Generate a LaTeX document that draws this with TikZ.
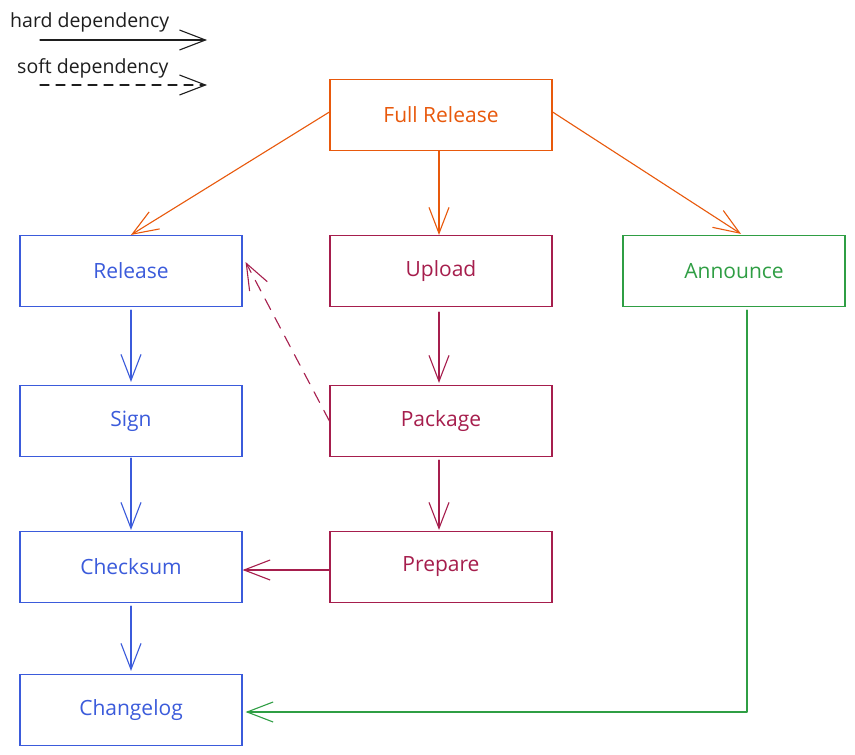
\documentclass[tikz,border=0pt]{standalone}
\usepackage{fontspec}
\setmainfont{Open Sans}
\usetikzlibrary{arrows.meta,calc}
\definecolor{cOr}{HTML}{E8590C}
\definecolor{cBl}{HTML}{3B5BDB}
\definecolor{cCr}{HTML}{A61E4D}
\definecolor{cGr}{HTML}{2F9E44}
\definecolor{cBk}{HTML}{1E1E1E}
\tikzset{
  box/.style={draw, line width=1.2pt, minimum width=222pt, minimum height=71pt, inner sep=0pt, font=\fontsize{21}{23}\selectfont},
  conn/.style={line width=1.1pt, line cap=round, line join=round, -{Straight Barb[length=26pt,width=20pt,line width=1.1pt]}},
  lbl/.style={inner sep=0pt, text=cBk, font=\fontsize{19.5}{21}\selectfont}
}
\begin{document}
\begin{tikzpicture}[x=1pt,y=-1pt]
\useasboundingbox[fill=white] (0,0) rectangle (855,755);
% legend
\node[lbl, anchor=base west] (hardt) at (10,27) {hard dependency};
\node[lbl, anchor=base west] (softt) at (17,73) {soft dependency};
\coordinate (h1) at (40,40);
\coordinate (h2) at (207,40);
\coordinate (s1) at (40,85);
\coordinate (s2) at (207,85);
\draw[conn, cBk] (h1) -- (h2);
\draw[conn, cBk, dash pattern=on 9pt off 7pt] (s1) -- (s2);
% nodes
\node[box, draw=cOr, text=cOr] (full) at (441,115) {Full Release};
\node[box, draw=cBl, text=cBl] (rel) at (131,271) {Release};
\node[box, draw=cCr, text=cCr] (upl) at (441,271) {Upload};
\node[box, draw=cGr, text=cGr] (ann) at (734,271) {Announce};
\node[box, draw=cBl, text=cBl] (sign) at (131,421) {Sign};
\node[box, draw=cCr, text=cCr] (pkg) at (441,421) {Package};
\node[box, draw=cBl, text=cBl] (chk) at (131,567) {Checksum};
\node[box, draw=cCr, text=cCr] (prep) at (441,567) {Prepare};
\node[box, draw=cBl, text=cBl] (chg) at (131,710) {Changelog};
% connectors
\draw[conn, cOr] ($(full.west)+(0,-3)$) -- (rel.north);
\draw[conn, cOr] ($(full.south)+(-2,0)$) -- ($(upl.north)+(-2,0)$);
\draw[conn, cOr] ($(full.east)+(0,-3)$) -- ($(ann.north)+(7,-1)$);
\draw[conn, cBl] ($(rel.south)+(0,3)$) -- ($(sign.north)+(0,-3)$);
\draw[conn, cCr] ($(upl.south)+(-2,5)$) -- ($(pkg.north)+(-2,-2)$);
\draw[conn, cCr, dash pattern=on 12pt off 9pt] (pkg.west) -- ($(rel.east)+(3,-9)$);
\draw[conn, cBl] ($(sign.south)+(0,1)$) -- ($(chk.north)+(0,-1)$);
\draw[conn, cCr] ($(pkg.south)+(-2,3)$) -- ($(prep.north)+(-2,-1)$);
\draw[conn, cCr] ($(prep.west)+(0,3)$) -- ($(chk.east)+(0,3)$);
\draw[conn, cBl] ($(chk.south)+(0,3)$) -- ($(chg.north)+(0,-3)$);
\draw[conn, cGr] ($(ann.south)+(13,3)$) |- ($(chg.east)+(3,2)$);
\end{tikzpicture}
\end{document}
